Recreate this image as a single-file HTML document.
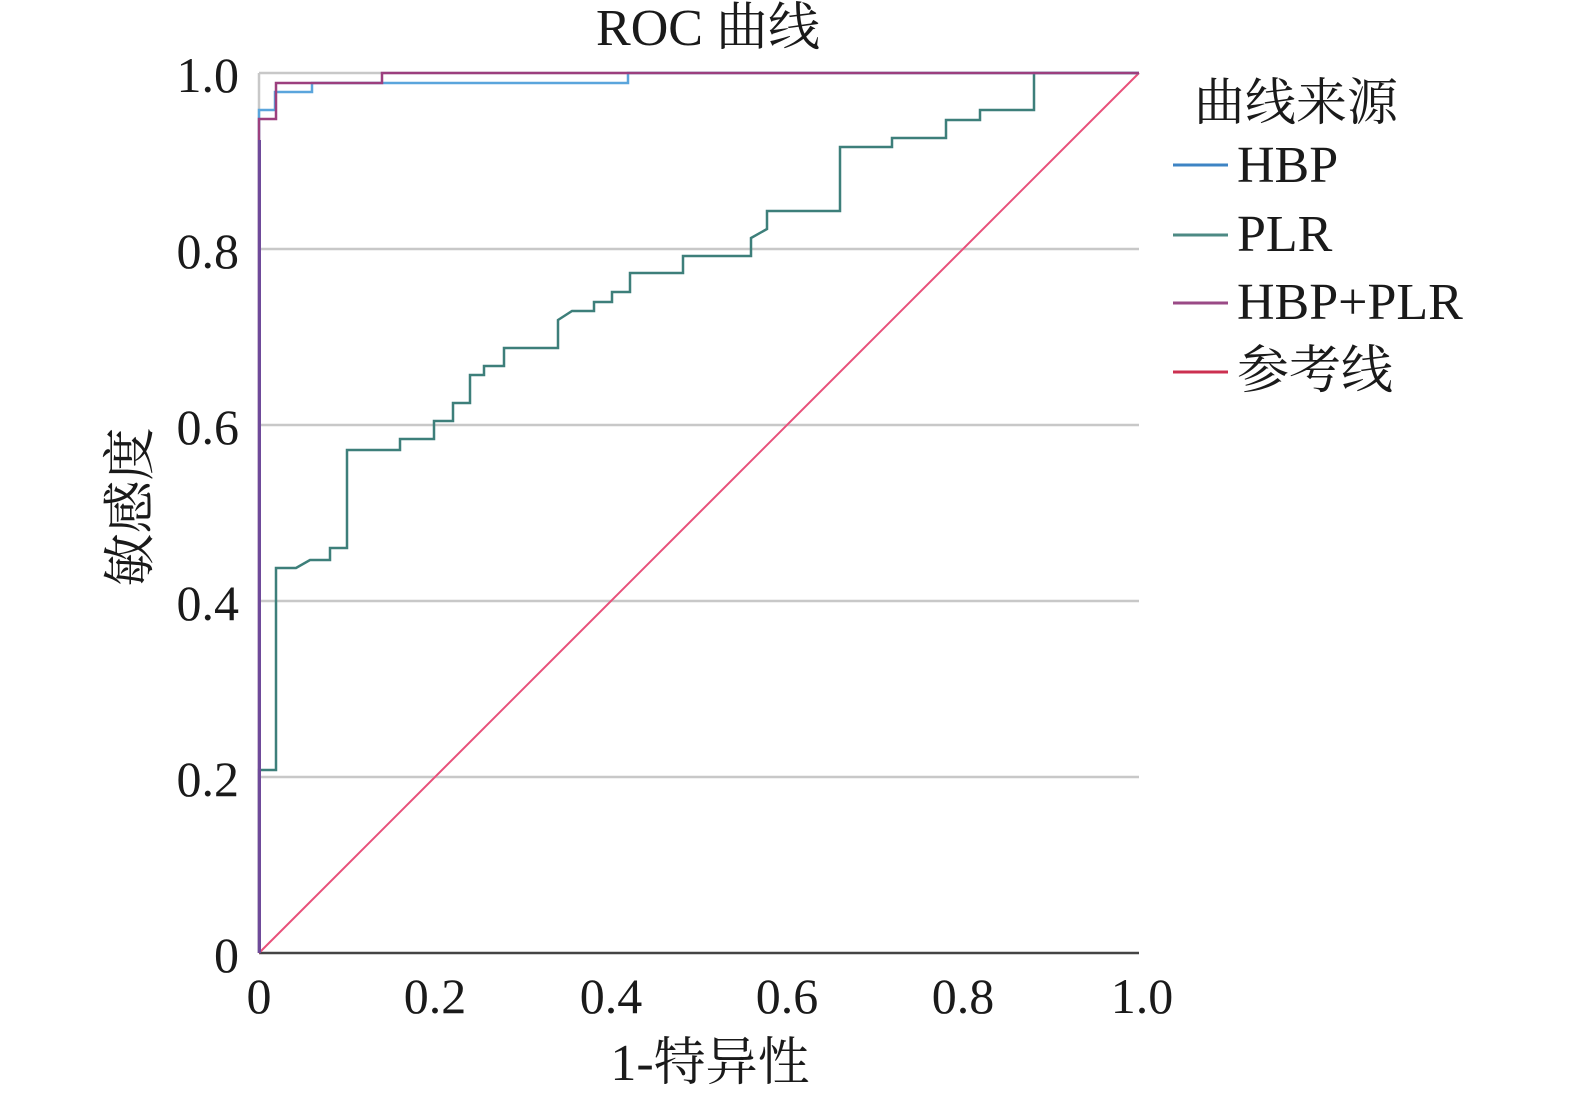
<!DOCTYPE html>
<html><head><meta charset="utf-8"><style>
html,body{margin:0;padding:0;background:#fff;}
svg{display:block;}
text{font-family:"Liberation Serif","Noto Serif CJK SC",serif;fill:#1a1a1a;}
</style></head><body>
<svg width="1575" height="1101" viewBox="0 0 1575 1101" xmlns="http://www.w3.org/2000/svg">
<rect width="1575" height="1101" fill="#fff"/>
<g stroke="#c8c8c8" stroke-width="2.5">
<line x1="259" y1="249" x2="1139" y2="249"/>
<line x1="259" y1="425" x2="1139" y2="425"/>
<line x1="259" y1="601" x2="1139" y2="601"/>
<line x1="259" y1="777" x2="1139" y2="777"/>
<line x1="259" y1="73" x2="1139" y2="73"/>
<line x1="259" y1="73" x2="259" y2="953"/>
</g>
<line x1="259" y1="953" x2="1139" y2="953" stroke="#444" stroke-width="2.5"/>
<line x1="259" y1="953" x2="1139" y2="73" stroke="#e8507a" stroke-width="2"/>
<polyline fill="none" stroke="#3d7f7a" stroke-width="2.5" points="259,953 259,770 276,770 276,568 296,568 310,560 330,560 330,548 347,548 347,450 400,450 400,439 434,439 434,421 453,421 453,403 470,403 470,375 484,375 484,366 504,366 504,348 558,348 558,320 572,311 594,311 594,302 612,302 612,292 630,292 630,273 683,273 683,256 751,256 751,238 767,229 767,211 840,211 840,147 892,147 892,138 946,138 946,120 980,120 980,110 1034,110 1034,73 1139,73"/>
<polyline fill="none" stroke="#5aa5dc" stroke-width="2.5" points="259,953 259,110 275,110 275,92 312,92 312,83 628,83 628,73 1139,73"/>
<polyline fill="none" stroke="#9c3f7e" stroke-width="2.5" points="259,953 259,119 276,119 276,83 382,83 382,73 1139,73"/>
<line x1="259.5" y1="953" x2="259.5" y2="140" stroke="#6f4a9a" stroke-width="3"/>
<text x="708" y="45" font-size="52" text-anchor="middle">ROC 曲线</text>
<g font-size="50" text-anchor="end">
<text x="239" y="92">1.0</text>
<text x="239" y="268">0.8</text>
<text x="239" y="444">0.6</text>
<text x="239" y="620">0.4</text>
<text x="239" y="796">0.2</text>
<text x="239" y="972">0</text>
</g>
<g font-size="50" text-anchor="middle">
<text x="259" y="1013">0</text>
<text x="435" y="1013">0.2</text>
<text x="611" y="1013">0.4</text>
<text x="787" y="1013">0.6</text>
<text x="963" y="1013">0.8</text>
<text x="1142" y="1013">1.0</text>
</g>
<text x="710" y="1080" font-size="52" text-anchor="middle">1-特异性</text>
<text transform="translate(148,507) rotate(-90)" font-size="53" text-anchor="middle">敏感度</text>
<text x="1194" y="120" font-size="51">曲线来源</text>
<g stroke-width="3">
<line x1="1173" y1="165" x2="1228" y2="165" stroke="#3e84c4"/>
<line x1="1173" y1="235" x2="1228" y2="235" stroke="#4d8a84"/>
<line x1="1173" y1="303" x2="1228" y2="303" stroke="#9a4a86"/>
<line x1="1173" y1="372" x2="1228" y2="372" stroke="#cc3050"/>
</g>
<g font-size="52">
<text x="1237" y="182">HBP</text>
<text x="1237" y="251">PLR</text>
<text x="1237" y="319">HBP+PLR</text>
<text x="1237" y="388">参考线</text>
</g>
</svg>
</body></html>
